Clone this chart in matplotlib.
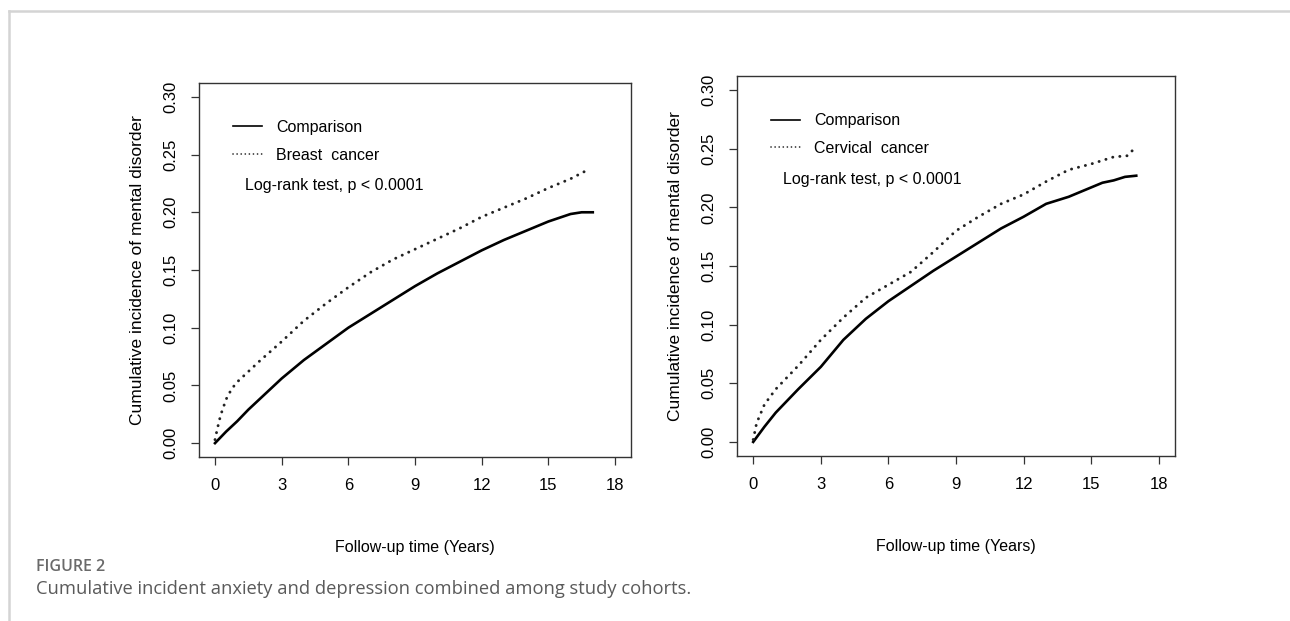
import numpy as np
import matplotlib
matplotlib.use('Agg')
import matplotlib.pyplot as plt
from matplotlib.lines import Line2D

plt.rcParams['font.family'] = ['Liberation Sans', 'DejaVu Sans']

# left panel: breast cancer cohort
t_comp_left = [0, 0.5, 1, 1.5, 2, 3, 4, 5, 6, 7, 8, 9, 10, 11, 12, 13, 14, 15, 16, 16.5, 17]
comp_left = [0.000, 0.010, 0.019, 0.029, 0.038, 0.056, 0.072, 0.086, 0.100, 0.112, 0.124,
             0.136, 0.147, 0.157, 0.167, 0.176, 0.184, 0.192, 0.1985, 0.200, 0.200]
t_breast = [0, 0.1, 0.25, 0.5, 0.75, 1, 1.5, 2, 3, 4, 5, 6, 7, 8, 9, 10, 11, 12, 13, 14, 15, 16, 16.7]
breast = [0.003, 0.012, 0.024, 0.038, 0.047, 0.053, 0.062, 0.071, 0.088, 0.106, 0.121, 0.135,
          0.148, 0.159, 0.168, 0.177, 0.186, 0.196, 0.204, 0.212, 0.221, 0.229, 0.236]

# right panel: cervical cancer cohort
t_comp_right = [0, 0.5, 1, 1.5, 2, 3, 4, 5, 6, 7, 8, 9, 10, 11, 12, 13, 14, 15, 15.5, 16, 16.5, 17]
comp_right = [0.000, 0.013, 0.025, 0.035, 0.045, 0.064, 0.087, 0.105, 0.120, 0.133, 0.146,
              0.158, 0.170, 0.182, 0.192, 0.203, 0.209, 0.217, 0.221, 0.223, 0.226, 0.227]
t_cervical = [0, 0.15, 0.5, 1, 1.5, 2, 3, 4, 5, 6, 7, 8, 9, 10, 11, 12, 13, 14, 15, 16, 16.6, 16.8, 17]
cervical = [0.002, 0.016, 0.032, 0.045, 0.055, 0.065, 0.087, 0.106, 0.123, 0.134, 0.145, 0.162,
            0.180, 0.192, 0.203, 0.211, 0.222, 0.232, 0.237, 0.243, 0.244, 0.248, 0.250]

x_ticks = [0, 3, 6, 9, 12, 15, 18]
y_ticks = [0.00, 0.05, 0.10, 0.15, 0.20, 0.25, 0.30]

fig = plt.figure(figsize=(12.9, 6.21), dpi=100)

panels = [
    ([199 / 1290, 164 / 621, 432 / 1290, 374 / 621], t_comp_left, comp_left, t_breast, breast, 'Breast  cancer'),
    ([737 / 1290, 165 / 621, 438 / 1290, 380 / 621], t_comp_right, comp_right, t_cervical, cervical, 'Cervical  cancer'),
]

for rect, tc, yc, tk, yk, lab in panels:
    ax = fig.add_axes(rect)
    ax.plot(tc, yc, color='black', lw=1.9, label='Comparison')
    ax.plot(tk, yk, color='#222222', lw=2.1, linestyle=(0, (0.05, 2.4)),
            dash_capstyle='round', label=lab)
    ax.set_xlim(-0.72, 18.72)
    ax.set_ylim(-0.012, 0.312)
    ax.set_xticks(x_ticks)
    ax.set_xticklabels([str(v) for v in x_ticks])
    ax.set_yticks(y_ticks)
    ax.set_yticklabels(['%.2f' % v for v in y_ticks], rotation=90, va='center')
    ax.tick_params(direction='out', length=6, width=0.9, colors='#333333',
                   labelcolor='black', labelsize=12, pad=9)
    for s in ax.spines.values():
        s.set_color('#333333')
        s.set_linewidth(1.0)
    ax.set_xlabel('Follow-up time (Years)', fontsize=11.5, labelpad=34)
    ax.set_ylabel('Cumulative incidence of mental disorder', fontsize=12.5, labelpad=13)
    leg = ax.legend(loc='upper left', bbox_to_anchor=(0.045, 0.94), frameon=False,
                    fontsize=11.5, handlelength=1.8, handletextpad=0.9, labelspacing=0.8)
    for h in leg.get_lines():
        h.set_linewidth(1.2)
    ax.text(0.106, 0.727, 'Log-rank test, p < 0.0001', transform=ax.transAxes,
            fontsize=11.5, va='center', ha='left')

# page frame lines
fig.add_artist(Line2D([9 / 1290, 1], [1 - 11 / 621, 1 - 11 / 621], color='#d4d4d4', lw=1.8))
fig.add_artist(Line2D([9 / 1290, 9 / 1290], [0, 1 - 11 / 621], color='#d4d4d4', lw=1.8))

fig.text(36 / 1290, 1 - 567 / 621, 'FIGURE 2', fontsize=11.5, color='#6a6a6a',
         family=['Open Sans', 'DejaVu Sans'], weight='semibold', va='center')
fig.text(36 / 1290, 1 - 589 / 621, 'Cumulative incident anxiety and depression combined among study cohorts.',
         fontsize=13.2, color='#5a5a5a', family=['Open Sans', 'DejaVu Sans'], va='center')

fig.savefig('out.png', dpi=100)
